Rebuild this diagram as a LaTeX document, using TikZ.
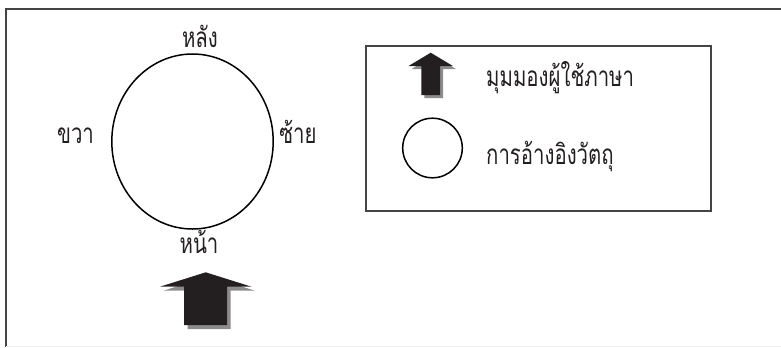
\documentclass[tikz,border=0pt]{standalone}
\usepackage{fontspec}
\newfontfamily\thaifont[Script=Thai, FakeStretch=0.73]{Loma}
\definecolor{arrowfill}{HTML}{231F20}
\definecolor{shadowgray}{HTML}{8C8C8C}
\definecolor{framegray}{HTML}{444444}
\definecolor{textgray}{HTML}{231F20}
\begin{document}
\begin{tikzpicture}[x=1bp,y=-1bp,
  lbl/.style={font=\thaifont\fontsize{28}{32}\selectfont, text=textgray, inner sep=0pt, anchor=base},
  legtxt/.style={font=\thaifont\fontsize{28}{32}\selectfont, text=textgray, inner sep=0pt, anchor=base west},
  framestyle/.style={draw=framegray, line width=2bp},
  arrowbody/.style={fill=arrowfill, draw=none},
  arrowshadow/.style={fill=shadowgray, draw=none}]
\useasboundingbox (0,0) rectangle (781,347);
% outer frame (top and left edges)
\draw[framestyle] (5.5,347) -- (5.5,8.5) -- (781,8.5);
\draw[black!6, line width=1bp] (5.5,346.5) -- (781,346.5);
% legend box
\draw[framestyle] (366,46) rectangle (711,211);
% main ellipse
\draw[black, line width=1.5bp] (192.5,141.5) ellipse [x radius=80.7, y radius=87.5];
\node[lbl] (back) at (200,47) {หลัง};
\node[lbl] (right) at (75.5,143) {ขวา};
\node[lbl] (left) at (298,143) {ซ้าย};
\node[lbl] (front) at (199,253) {หน้า};
% big arrow with shadow
\begin{scope}[shift={(205.7,272.3)}]
  \fill[arrowshadow] (3.5,4) -- (3.5+45.8,4+14.4) -- (3.5+21.5,4+14.4) -- (3.5+21.5,4+52.7) -- (3.5-21.5,4+52.7) -- (3.5-21.5,4+14.4) -- (3.5-45.8,4+14.4) -- cycle;
  \fill[arrowbody] (0,0) -- (45.8,14.4) -- (21.5,14.4) -- (21.5,52.7) -- (-21.5,52.7) -- (-21.5,14.4) -- (-45.8,14.4) -- cycle;
\end{scope}
% legend small arrow with shadow
\begin{scope}[shift={(430.7,52.7)}]
  \fill[arrowshadow] (3,3) -- (3+22.2,3+13.3) -- (3+9.3,3+13.3) -- (3+9.3,3+42.3) -- (3-9.3,3+42.3) -- (3-9.3,3+13.3) -- (3-22.2,3+13.3) -- cycle;
  \fill[arrowbody] (0,0) -- (22.2,13.3) -- (9.3,13.3) -- (9.3,42.3) -- (-9.3,42.3) -- (-9.3,13.3) -- (-22.2,13.3) -- cycle;
\end{scope}
\node[legtxt] (viewpoint) at (486,86.7) {มุมมองผู้ใช้ภาษา};
% legend circle
\draw[black, line width=1.5bp] (432.5,148) circle [radius=29.8];
\node[legtxt] (objref) at (486,164) {การอ้างอิงวัตถุ};
\end{tikzpicture}
\end{document}
